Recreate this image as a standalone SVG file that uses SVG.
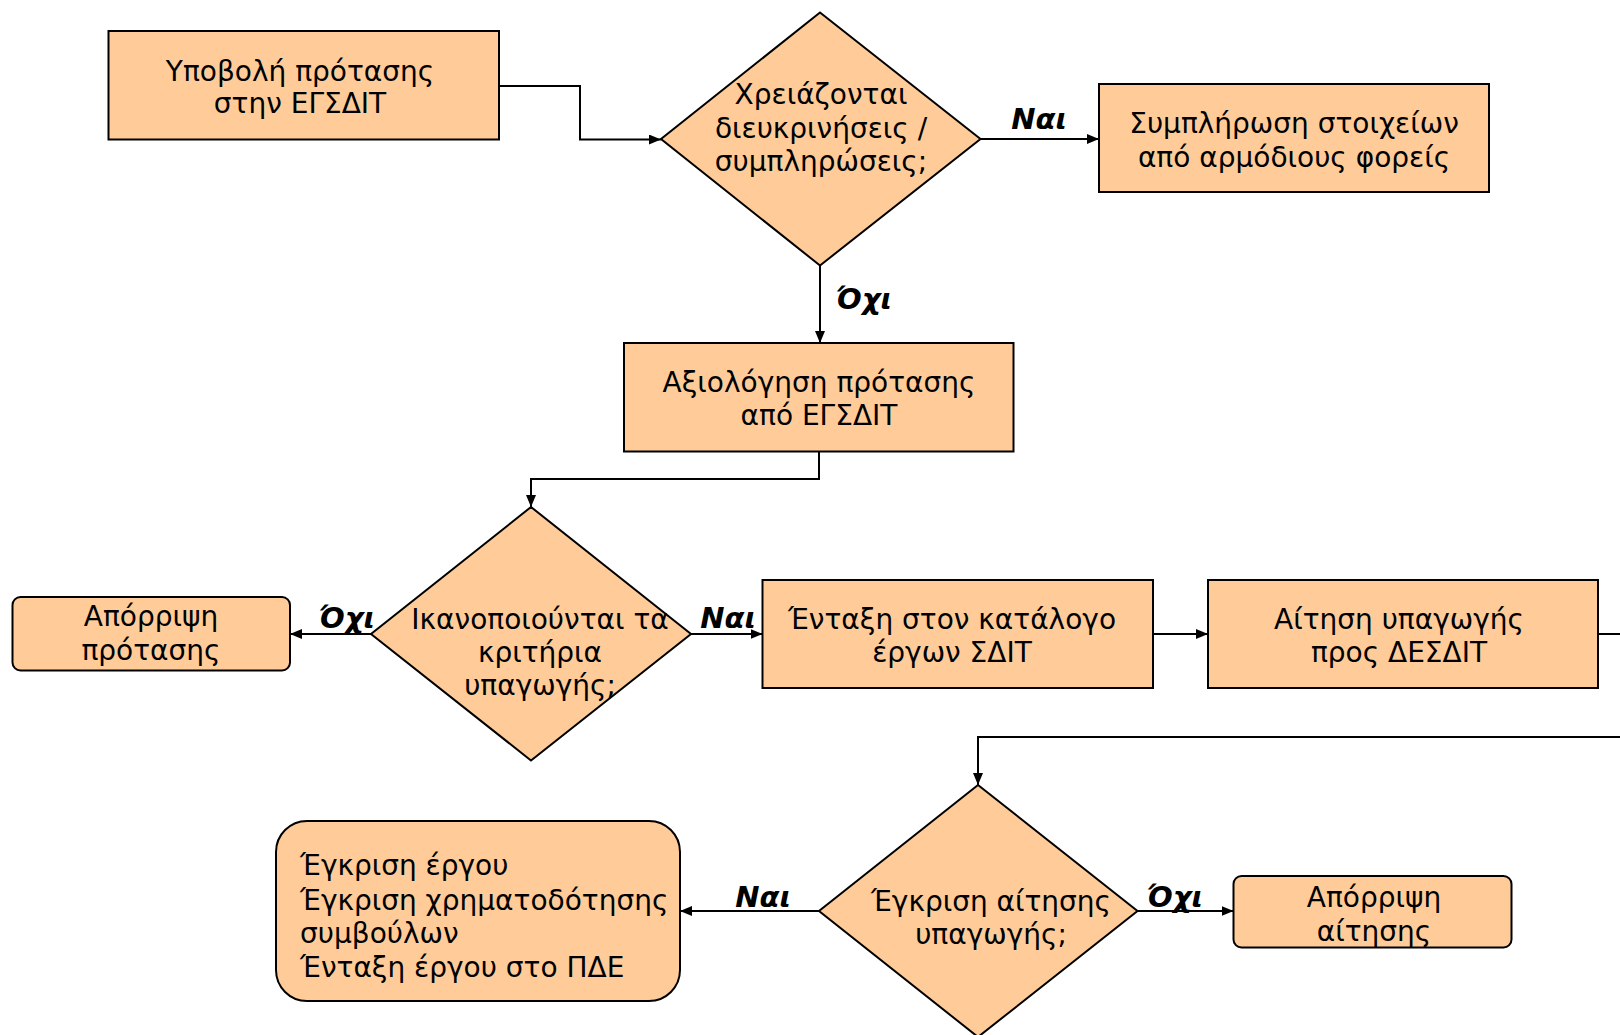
<svg xmlns="http://www.w3.org/2000/svg" width="1620" height="1035" viewBox="0 0 1620 1035">
<style>
.n{fill:#FFCC99;stroke:#000;stroke-width:2}
.t{font-family:"DejaVu Sans","Liberation Sans",sans-serif;font-size:28px;fill:#000;text-anchor:middle}
.tl{font-family:"DejaVu Sans","Liberation Sans",sans-serif;font-size:28px;fill:#000}
.lb{font-family:"DejaVu Sans","Liberation Sans",sans-serif;font-size:29px;font-weight:bold;font-style:italic;fill:#000;text-anchor:middle}
.c{fill:none;stroke:#000;stroke-width:2}
</style>
<defs>
<marker id="ah" markerWidth="12" markerHeight="10" refX="12" refY="5" orient="auto" markerUnits="userSpaceOnUse">
<path d="M0,0 L12,5 L0,10 Z" fill="#000"/>
</marker>
</defs>
<rect width="1620" height="1035" fill="#fff"/>
<g id="connectors">
<path class="c" d="M499,86 H580 V139.5 H661" marker-end="url(#ah)"/>
<path class="c" d="M980.5,139 H1099" marker-end="url(#ah)"/>
<path class="c" d="M820,265.5 V343" marker-end="url(#ah)"/>
<path class="c" d="M819,451.5 V479 H531 V507" marker-end="url(#ah)"/>
<path class="c" d="M371,634 H290" marker-end="url(#ah)"/>
<path class="c" d="M691,634 H762.5" marker-end="url(#ah)"/>
<path class="c" d="M1153,634 H1208" marker-end="url(#ah)"/>
<path class="c" d="M1598,634 H1640 V737 H978 V785" marker-end="url(#ah)"/>
<path class="c" d="M819,911 H680" marker-end="url(#ah)"/>
<path class="c" d="M1137.5,911 H1233.5" marker-end="url(#ah)"/>
<text class="lb" x="1039" y="129">Ναι</text>
<text class="lb" x="864" y="309">Όχι</text>
<text class="lb" x="347" y="628">Όχι</text>
<text class="lb" x="728" y="628">Ναι</text>
<text class="lb" x="763" y="907">Ναι</text>
<text class="lb" x="1175" y="907">Όχι</text>
</g>
<g id="submit">
<rect class="n" x="108.5" y="31" width="390.5" height="108.5"/>
<text class="t" x="300" y="81">Υποβολή πρότασης</text>
<text class="t" x="300" y="113">στην ΕΓΣΔΙΤ</text>
</g>
<g id="needClarifications">
<polygon class="n" points="820,12.5 980.5,139 820,265.5 661,139"/>
<text class="t" x="821" y="104">Χρειάζονται</text>
<text class="t" x="821" y="138">διευκρινήσεις /</text>
<text class="t" x="821" y="171">συμπληρώσεις;</text>
</g>
<g id="complete">
<rect class="n" x="1099" y="84" width="390" height="108"/>
<text class="t" x="1294" y="133">Συμπλήρωση στοιχείων</text>
<text class="t" x="1294" y="167">από αρμόδιους φορείς</text>
</g>
<g id="evaluate">
<rect class="n" x="624" y="343" width="389.5" height="108.5"/>
<text class="t" x="819" y="392">Αξιολόγηση πρότασης</text>
<text class="t" x="819" y="425">από ΕΓΣΔΙΤ</text>
</g>
<g id="criteria">
<polygon class="n" points="531,507 691,634 531,760.5 371,634"/>
<text class="t" x="540" y="629">Ικανοποιούνται τα</text>
<text class="t" x="540" y="662">κριτήρια</text>
<text class="t" x="540" y="695">υπαγωγής;</text>
</g>
<g id="rejectProposal">
<rect class="n" x="12.5" y="597" width="277.5" height="73.5" rx="8"/>
<text class="t" x="151" y="626">Απόρριψη</text>
<text class="t" x="151" y="660">πρότασης</text>
</g>
<g id="catalogue">
<rect class="n" x="762.5" y="580" width="390.5" height="108"/>
<text class="t" x="952" y="629">Ένταξη στον κατάλογο</text>
<text class="t" x="952" y="662">έργων ΣΔΙΤ</text>
</g>
<g id="application">
<rect class="n" x="1208" y="580" width="390" height="108"/>
<text class="t" x="1399" y="629">Αίτηση υπαγωγής</text>
<text class="t" x="1399" y="662">προς ΔΕΣΔΙΤ</text>
</g>
<g id="approveApplication">
<polygon class="n" points="978,785 1137.5,911 978,1037 819,911"/>
<text class="t" x="991" y="911">Έγκριση αίτησης</text>
<text class="t" x="991" y="944">υπαγωγής;</text>
</g>
<g id="approved">
<rect class="n" x="276" y="821" width="404" height="180" rx="31"/>
<text class="tl" x="300" y="875">Έγκριση έργου</text>
<text class="tl" x="300" y="910">Έγκριση χρηματοδότησης</text>
<text class="tl" x="300" y="943">συμβούλων</text>
<text class="tl" x="300" y="977">Ένταξη έργου στο ΠΔΕ</text>
</g>
<g id="rejectApplication">
<rect class="n" x="1233.5" y="876" width="278" height="71.5" rx="8"/>
<text class="t" x="1374" y="907">Απόρριψη</text>
<text class="t" x="1374" y="941">αίτησης</text>
</g>
</svg>
